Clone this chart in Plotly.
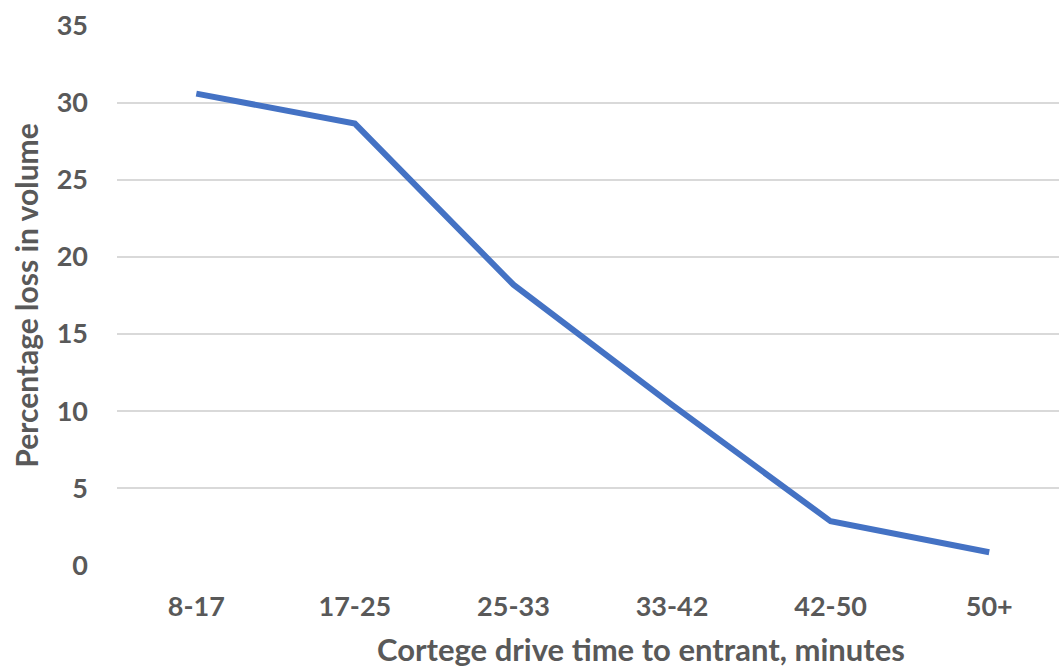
import plotly.graph_objects as go

categories = ["8-17", "17-25", "25-33", "33-42", "42-50", "50+"]
loss_pct = [30.6, 28.65, 18.2, 10.4, 2.85, 0.84]
y_ticks = [0, 5, 10, 15, 20, 25, 30, 35]

font_family = "Lato, 'Open Sans', sans-serif"
grey = "#595959"

fig = go.Figure()
fig.add_trace(go.Scatter(
    x=list(range(len(categories))), y=loss_pct, mode="lines",
    line=dict(color="#4472C4", width=6), hoverinfo="skip"))

fig.update_layout(
    width=1059, height=668,
    margin=dict(l=117, r=0, t=25, b=102),
    paper_bgcolor="white", plot_bgcolor="white",
    showlegend=False,
    font=dict(family=font_family, color=grey, size=27),
)
fig.update_xaxes(
    tickmode="array", tickvals=list(range(len(categories))), ticktext=categories,
    range=[-0.5, 5.44], showgrid=False, zeroline=False, showline=False,
    ticklabelstandoff=22, automargin=False,
    tickfont=dict(family=font_family, color=grey, size=27, weight="bold"),
)
fig.add_annotation(
    text="Cortege drive time to entrant, minutes",
    xref="paper", yref="paper", x=0.5563, y=-0.1525,
    xanchor="center", yanchor="middle", showarrow=False,
    font=dict(family=font_family, color=grey, size=31, weight="bold"),
)
fig.update_yaxes(
    tickmode="array", tickvals=y_ticks, range=[-0.05, 35.05],
    showgrid=True, gridcolor="#d9d9d9", gridwidth=1.5,
    zeroline=False, showline=False, ticklabelstandoff=28, automargin=False,
    tickfont=dict(family=font_family, color=grey, size=27, weight="bold"),
    title=dict(text="Percentage loss in volume", standoff=9,
               font=dict(family=font_family, color=grey, size=30, weight="bold")),
)

fig.write_html("out.html", config={"displayModeBar": False},
               post_script="document.body.style.margin='0';")
